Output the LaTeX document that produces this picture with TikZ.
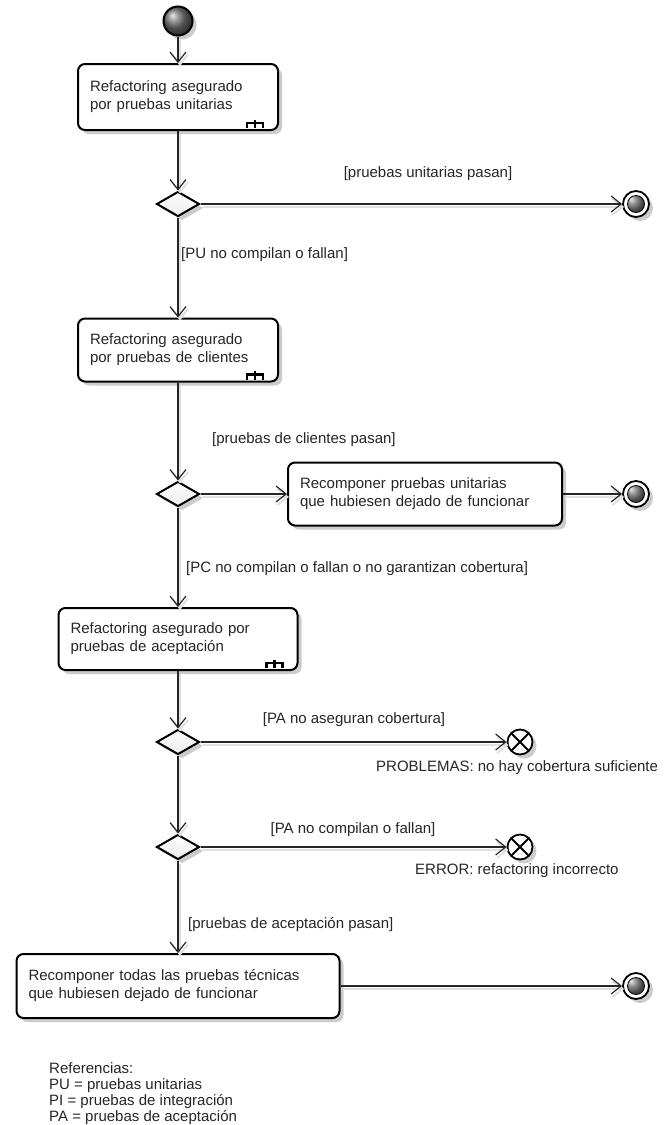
\documentclass[tikz,border=0pt]{standalone}
\usepackage{fontspec}
\setmainfont{Liberation Sans}
\usetikzlibrary{arrows.meta,shapes.geometric,shadows,calc,positioning}
\newcommand\umlfont{\fontsize{15}{18}\selectfont}
% rake symbol of a call behaviour action
\newcommand\subactivity[1]{%
  \draw[line width=2.4pt, black] ([shift={(-32pt,3pt)}]#1.south east) |- ([shift={(-16pt,8pt)}]#1.south east) -- ++(0pt,-5pt)
    ([shift={(-24pt,11.5pt)}]#1.south east) -- ++(0pt,-8.5pt);}

\begin{document}
\begin{tikzpicture}[x=1pt, y=-1pt, >={Straight Barb[length=10pt,width=16pt]},
  umlshadow/.style={drop shadow={shadow xshift=4pt, shadow yshift=-4pt, fill=black!20, opacity=1}},
  act/.style={draw, line width=2pt, rounded corners=7pt, fill=white, align=left, inner xsep=12pt,
    font=\umlfont, text=black!85, umlshadow},
  decision/.style={diamond, draw, line width=2pt, top color=white, bottom color=black!8, minimum width=43pt,
    minimum height=25pt, inner sep=0pt, umlshadow},
  initial/.style={circle, draw, line width=2pt, minimum size=29pt, inner sep=0pt, shading=ball,
    ball color=black!55, umlshadow},
  final/.style={circle, draw, line width=1.8pt, fill=white, minimum size=26pt, inner sep=0pt, umlshadow,
    path picture={\shadedraw[line width=0.8pt, ball color=black!60] (path picture bounding box.center) circle (8.5pt);}},
  flowend/.style={circle, draw, line width=1.8pt, fill=white, minimum size=25pt, inner sep=0pt, umlshadow,
    path picture={\draw[line width=1.8pt] (path picture bounding box.north west) -- (path picture bounding box.south east)
      (path picture bounding box.north east) -- (path picture bounding box.south west);}},
  conn/.style={->, line width=1.2pt, draw=black!85,
    preaction={draw=black!12, line width=2pt, transform canvas={shift={(2pt,-3pt)}}}},
  guard/.style={font=\umlfont, inner sep=0pt, text=black!85}]
  \fill[white] (0,0) rectangle (668,1125);
  \useasboundingbox (0,0) rectangle (668,1125);

  % Unit tests
  \node[initial] (start) at (178,21) {};
  \node[act, text width=176pt, minimum height=66pt] (actUnit) at (178,97) {Refactoring asegurado\\por pruebas unitarias};
  \subactivity{actUnit}
  \node[decision] (decUnit) at (178,204) {};
  \node[final] (endUnit) at (636,204) {};
  \node[guard] (gUnitPass) at (428,174) {[pruebas unitarias pasan]};
  \node[guard, anchor=west] (gUnitFail) at (181,255) {[PU no compilan o fallan]};

  % Customer tests
  \node[act, text width=176pt, minimum height=63pt] (actClient) at (178,350) {Refactoring asegurado\\por pruebas de clientes};
  \subactivity{actClient}
  \node[decision] (decClient) at (178,494) {};
  \node[act, text width=250pt, minimum height=63pt] (actFixUnit) at (425,494) {Recomponer pruebas unitarias\\que hubiesen dejado de funcionar};
  \node[final] (endClient) at (636,494) {};
  \node[guard, anchor=west] (gClientPass) at (212,440) {[pruebas de clientes pasan]};
  \node[guard, anchor=west] (gClientFail) at (186,569) {[PC no compilan o fallan o no garantizan cobertura]};

  % Acceptance tests
  \node[act, text width=215pt, minimum height=62pt] (actAccept) at (178,639) {Refactoring asegurado por\\pruebas de aceptación};
  \subactivity{actAccept}
  \node[decision] (decCover) at (178,742) {};
  \node[flowend] (errCover) at (520,742) {};
  \node[guard] (gCover) at (354,720) {[PA no aseguran cobertura]};
  \node[guard, anchor=west] (nCover) at (376,768) {PROBLEMAS: no hay cobertura suficiente};
  \node[decision] (decAccept) at (178,847) {};
  \node[flowend] (errAccept) at (520,847) {};
  \node[guard] (gAcceptFail) at (353,830) {[PA no compilan o fallan]};
  \node[guard, anchor=west] (nAccept) at (415,871) {ERROR: refactoring incorrecto};
  \node[guard, anchor=west] (gAcceptPass) at (188,925) {[pruebas de aceptación pasan]};

  % All technical tests
  \node[act, text width=299pt, minimum height=64pt] (actFixAll) at (178,986) {Recomponer todas las pruebas técnicas\\que hubiesen dejado de funcionar};
  \node[final] (endAll) at (636,986) {};

  \node[guard, anchor=north west, align=left, font=\fontsize{15}{16.3}\selectfont] (legend) at (49,1062)
    {Referencias:\\PU = pruebas unitarias\\PI = pruebas de integración\\PA = pruebas de aceptación};

  % flows
  \draw[conn] (start) -- (actUnit);
  \draw[conn] (actUnit) -- (decUnit);
  \draw[conn] (decUnit) -- (endUnit);
  \draw[conn] (decUnit) -- (actClient);
  \draw[conn] (actClient) -- (decClient);
  \draw[conn] (decClient) -- (actFixUnit);
  \draw[conn] (actFixUnit) -- (endClient);
  \draw[conn] (decClient) -- (actAccept);
  \draw[conn] (actAccept) -- (decCover);
  \draw[conn] (decCover) -- (errCover);
  \draw[conn] (decCover) -- (decAccept);
  \draw[conn] (decAccept) -- (errAccept);
  \draw[conn] (decAccept) -- (actFixAll);
  \draw[conn] (actFixAll) -- (endAll);
\end{tikzpicture}
\end{document}
